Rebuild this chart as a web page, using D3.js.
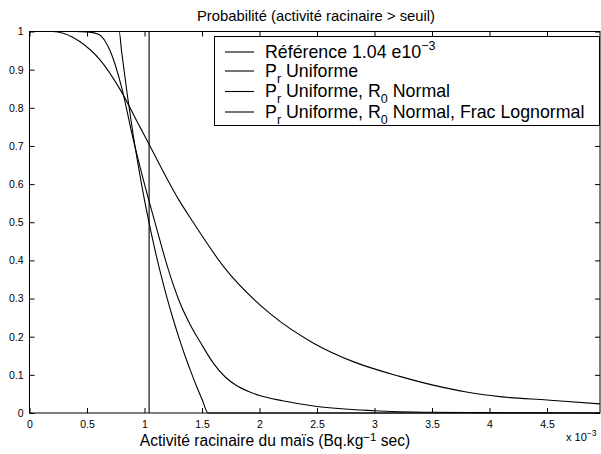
<!DOCTYPE html>
<html><head><meta charset="utf-8">
<script src="https://cdn.jsdelivr.net/npm/d3@7"></script>
<style>
body{margin:0;background:#fff;}
svg{display:block;font-family:"Liberation Sans",Arial,Helvetica,sans-serif;}
</style></head>
<body><svg id="c" width="601" height="454"></svg>
<script>
// ---- data ----
const xTicks = [0, 0.5, 1, 1.5, 2, 2.5, 3, 3.5, 4, 4.5];
const xTickLabels = ["0", "0.5", "1", "1.5", "2", "2.5", "3", "3.5", "4", "4.5"];
const yTicks = [0, 0.1, 0.2, 0.3, 0.4, 0.5, 0.6, 0.7, 0.8, 0.9, 1];
const yTickLabels = ["0", "0.1", "0.2", "0.3", "0.4", "0.5", "0.6", "0.7", "0.8", "0.9", "1"];

// reference line 1.04e-3
const refX = [1.04, 1.04];
const refY = [0, 1];

// P_r Uniforme
const uniX = [0, 0.78, 0.80, 0.85, 0.90, 0.95, 1.00, 1.05, 1.10, 1.15, 1.20, 1.25, 1.30, 1.35, 1.40, 1.45, 1.50, 1.554, 5];
const uniY = [1, 1, 0.950, 0.835, 0.732, 0.641, 0.558, 0.484, 0.416, 0.354, 0.297, 0.245, 0.197, 0.152, 0.111, 0.072, 0.036, 0, 0];

// P_r Uniforme, R0 Normal
const normX = [0, 0.40, 0.50, 0.60, 0.70, 0.80, 0.90, 1.00, 1.10, 1.20, 1.30, 1.40, 1.50, 1.60, 1.70, 1.80, 1.90, 2.00, 2.20, 2.50, 3.00, 3.50, 4.00, 5.00];
const normY = [1, 1, 0.999, 0.993, 0.950, 0.855, 0.720, 0.600, 0.490, 0.383, 0.295, 0.230, 0.178, 0.130, 0.095, 0.072, 0.057, 0.046, 0.032, 0.017, 0.006, 0.002, 0.001, 0];

// P_r Uniforme, R0 Normal, Frac Lognormal
const logX = [0, 0.20, 0.30, 0.44, 0.615, 0.79, 0.96, 1.035, 1.30, 1.41, 1.70, 2.09, 2.47, 2.82, 3.22, 3.51, 3.80, 4.09, 4.50, 4.96];
const logY = [1, 1, 0.995, 0.973, 0.925, 0.847, 0.750, 0.707, 0.558, 0.506, 0.379, 0.261, 0.183, 0.134, 0.096, 0.073, 0.055, 0.043, 0.034, 0.024];

const titleText = "Probabilité (activité racinaire > seuil)";
const xLabelMain = "Activité racinaire du maïs (Bq.kg";
const xLabelSup = "−1";
const xLabelEnd = " sec)";
const xExponent = ["x 10", "−3"];

// legend entries: segments [text, kind] kind: n normal, sub, sup
const legendItems = [
  [["Référence 1.04 e10", "n"], ["−3", "sup"]],
  [["P", "n"], ["r", "sub"], [" Uniforme", "n"]],
  [["P", "n"], ["r", "sub"], [" Uniforme, R", "n"], ["0", "sub"], [" Normal", "n"]],
  [["P", "n"], ["r", "sub"], [" Uniforme, R", "n"], ["0", "sub"], [" Normal, Frac Lognormal", "n"]]
];

// ---- drawing ----
const svg = d3.select("#c");
const L = 29.5, R = 600, T = 31.5, B = 413;
const x = d3.scaleLinear().domain([0, 5]).range([L, L + 575]);
const y = d3.scaleLinear().domain([0, 1]).range([B, T]);

svg.append("rect").attr("width", 601).attr("height", 454).attr("fill", "#fff");

svg.append("defs").append("clipPath").attr("id", "clip")
  .append("rect").attr("x", L).attr("y", T - 1).attr("width", R - L).attr("height", B - T + 2);

// axes
const axB = svg.append("g").attr("transform", `translate(0,${B})`)
  .call(d3.axisBottom(x).tickValues(xTicks).tickFormat((d, i) => xTickLabels[i]).tickSize(-5).tickPadding(8));
const axT = svg.append("g").attr("transform", `translate(0,${T})`)
  .call(d3.axisTop(x).tickValues(xTicks).tickFormat("").tickSize(-5));
const axL = svg.append("g").attr("transform", `translate(${L},0)`)
  .call(d3.axisLeft(y).tickValues(yTicks).tickFormat((d, i) => yTickLabels[i]).tickSize(-5).tickPadding(6));
const axR = svg.append("g").attr("transform", `translate(${R},0)`)
  .call(d3.axisRight(y).tickValues(yTicks).tickFormat("").tickSize(-5));
[axB, axT, axL, axR].forEach(g => {
  g.select(".domain").remove();
  g.selectAll("line").attr("stroke", "#000").attr("stroke-width", 1);
  g.selectAll("text").attr("font-size", 10.5).attr("fill", "#000")
    .attr("font-family", '"Liberation Sans",Arial,sans-serif');
});

// curves
const plot = svg.append("g").attr("clip-path", "url(#clip)");
const mk = (xs, ys) => xs.map((v, i) => [v, ys[i]]);
const line = d3.line().x(d => x(d[0])).y(d => y(d[1])).curve(d3.curveMonotoneX);
const lineLin = d3.line().x(d => x(d[0])).y(d => y(d[1]));

plot.append("path").attr("d", lineLin(mk(refX, refY))).attr("fill", "none").attr("stroke", "#000").attr("stroke-width", 1.1);
plot.append("path").attr("d", line(mk(uniX, uniY))).attr("fill", "none").attr("stroke", "#000").attr("stroke-width", 1.1);
plot.append("path").attr("d", line(mk(normX, normY))).attr("fill", "none").attr("stroke", "#000").attr("stroke-width", 1.1);
plot.append("path").attr("d", line(mk(logX, logY))).attr("fill", "none").attr("stroke", "#000").attr("stroke-width", 1.1);

// frame
svg.append("rect").attr("x", L).attr("y", T).attr("width", R - L).attr("height", B - T)
  .attr("fill", "none").attr("stroke", "#000").attr("stroke-width", 1);

// title
svg.append("text").attr("x", 316).attr("y", 21).attr("text-anchor", "middle")
  .attr("font-size", 14.8).attr("fill", "#000").text(titleText);

// x label
const xl = svg.append("text").attr("x", 275).attr("y", 446).attr("text-anchor", "middle")
  .attr("font-size", 15.6).attr("fill", "#000");
xl.append("tspan").text(xLabelMain);
xl.append("tspan").attr("font-size", 11.5).attr("dy", -5.5).text(xLabelSup);
xl.append("tspan").attr("dy", 5.5).text(xLabelEnd);

// exponent
const ex = svg.append("text").attr("x", 566).attr("y", 441).attr("font-size", 11).attr("fill", "#000");
ex.append("tspan").text(xExponent[0]);
ex.append("tspan").attr("font-size", 8.5).attr("dy", -5).text(xExponent[1]);

// legend
const lg = svg.append("g");
lg.append("rect").attr("x", 214.5).attr("y", 36.5).attr("width", 385).attr("height", 89)
  .attr("fill", "#fff").attr("stroke", "#000").attr("stroke-width", 1);
const rowY = [52, 71, 91.5, 112];
legendItems.forEach((segs, i) => {
  lg.append("line").attr("x1", 225).attr("x2", 254).attr("y1", rowY[i]).attr("y2", rowY[i])
    .attr("stroke", "#000").attr("stroke-width", 1.1);
  const t = lg.append("text").attr("x", 265).attr("y", rowY[i] + 5.5).attr("font-size", 17.8).attr("fill", "#000");
  let shift = 0;
  segs.forEach(([s, k]) => {
    const target = k === "sub" ? 6 : (k === "sup" ? -8 : 0);
    const ts = t.append("tspan").attr("dy", target - shift).text(s);
    if (k !== "n") ts.attr("font-size", 12.5);
    shift = target;
  });
});
</script></body></html>
